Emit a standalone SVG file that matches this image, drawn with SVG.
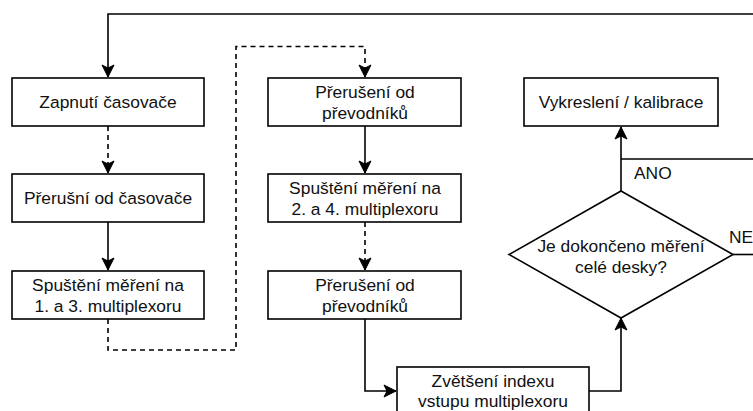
<svg xmlns="http://www.w3.org/2000/svg" width="753" height="411" viewBox="0 0 753 411">
<style>
.box{fill:#fff;stroke:#000;stroke-width:1.6}
.t{font-family:"Liberation Sans",Arial,Helvetica,sans-serif;font-size:17.4px;fill:#111;text-anchor:middle}
.l{font-family:"Liberation Sans",Arial,Helvetica,sans-serif;font-size:17.4px;fill:#111}
.c{fill:none;stroke:#000;stroke-width:1.6}
.d{stroke-dasharray:5 4}
</style>
<defs>
<marker id="arr" markerUnits="userSpaceOnUse" markerWidth="14" markerHeight="14" viewBox="-13 -7 14 14" refX="0" refY="0" orient="auto">
<path d="M0,0 L-12,-6 L-9,0 L-12,6 Z" fill="#000" stroke="#000" stroke-width="1"/>
</marker>
</defs>
<rect width="753" height="411" fill="#fff"/>
<g id="connectors">
<path class="c" d="M753,14 H108 V77" marker-end="url(#arr)"/>
<path class="c d" d="M108,126 V173" marker-end="url(#arr)"/>
<path class="c" d="M108,222 V270" marker-end="url(#arr)"/>
<path class="c d" d="M108,319 V350 H236 V46.5 H365 V77" marker-end="url(#arr)"/>
<path class="c" d="M365,126 V173" marker-end="url(#arr)"/>
<path class="c d" d="M365,222 V270" marker-end="url(#arr)"/>
<path class="c" d="M365,319 V391 H396" marker-end="url(#arr)"/>
<path class="c" d="M589,391 H621 V318" marker-end="url(#arr)"/>
<path class="c" d="M621,191 V127" marker-end="url(#arr)"/>
<path class="c" d="M621,159 H753"/>
<path class="c" d="M733,254.5 H753"/>
<text class="l" x="634" y="179">ANO</text>
<text class="l" x="729" y="243">NE</text>
</g>
<g id="n1"><rect class="box" x="12" y="78" width="192" height="48"/><text class="t" x="108" y="108.3">Zapnutí časovače</text></g>
<g id="n2"><rect class="box" x="12" y="174" width="192" height="48"/><text class="t" x="108" y="204.3">Přerušní od časovače</text></g>
<g id="n3"><rect class="box" x="12" y="271" width="192" height="48"/><text class="t" x="108" y="291">Spuštění měření na</text><text class="t" x="108" y="312">1. a 3. multiplexoru</text></g>
<g id="n4"><rect class="box" x="268" y="78" width="193" height="48"/><text class="t" x="365" y="98">Přerušení od</text><text class="t" x="365" y="119">převodníků</text></g>
<g id="n5"><rect class="box" x="268" y="174" width="193" height="48"/><text class="t" x="365" y="194">Spuštění měření na</text><text class="t" x="365" y="215">2. a 4. multiplexoru</text></g>
<g id="n6"><rect class="box" x="268" y="271" width="193" height="48"/><text class="t" x="365" y="291">Přerušení od</text><text class="t" x="365" y="312">převodníků</text></g>
<g id="n7"><rect class="box" x="397" y="367" width="192" height="48"/><text class="t" x="493" y="386.5">Zvětšení indexu</text><text class="t" x="493" y="407">vstupu multiplexoru</text></g>
<g id="n8"><path class="box" d="M621,191 L733,254.5 L621,318 L509,254.5 Z"/><text class="t" x="621" y="251.7">Je dokončeno měření</text><text class="t" x="621" y="272.7">celé desky?</text></g>
<g id="n9"><rect class="box" x="524" y="78" width="194" height="48"/><text class="t" x="621" y="108.3">Vykreslení / kalibrace</text></g>
</svg>
